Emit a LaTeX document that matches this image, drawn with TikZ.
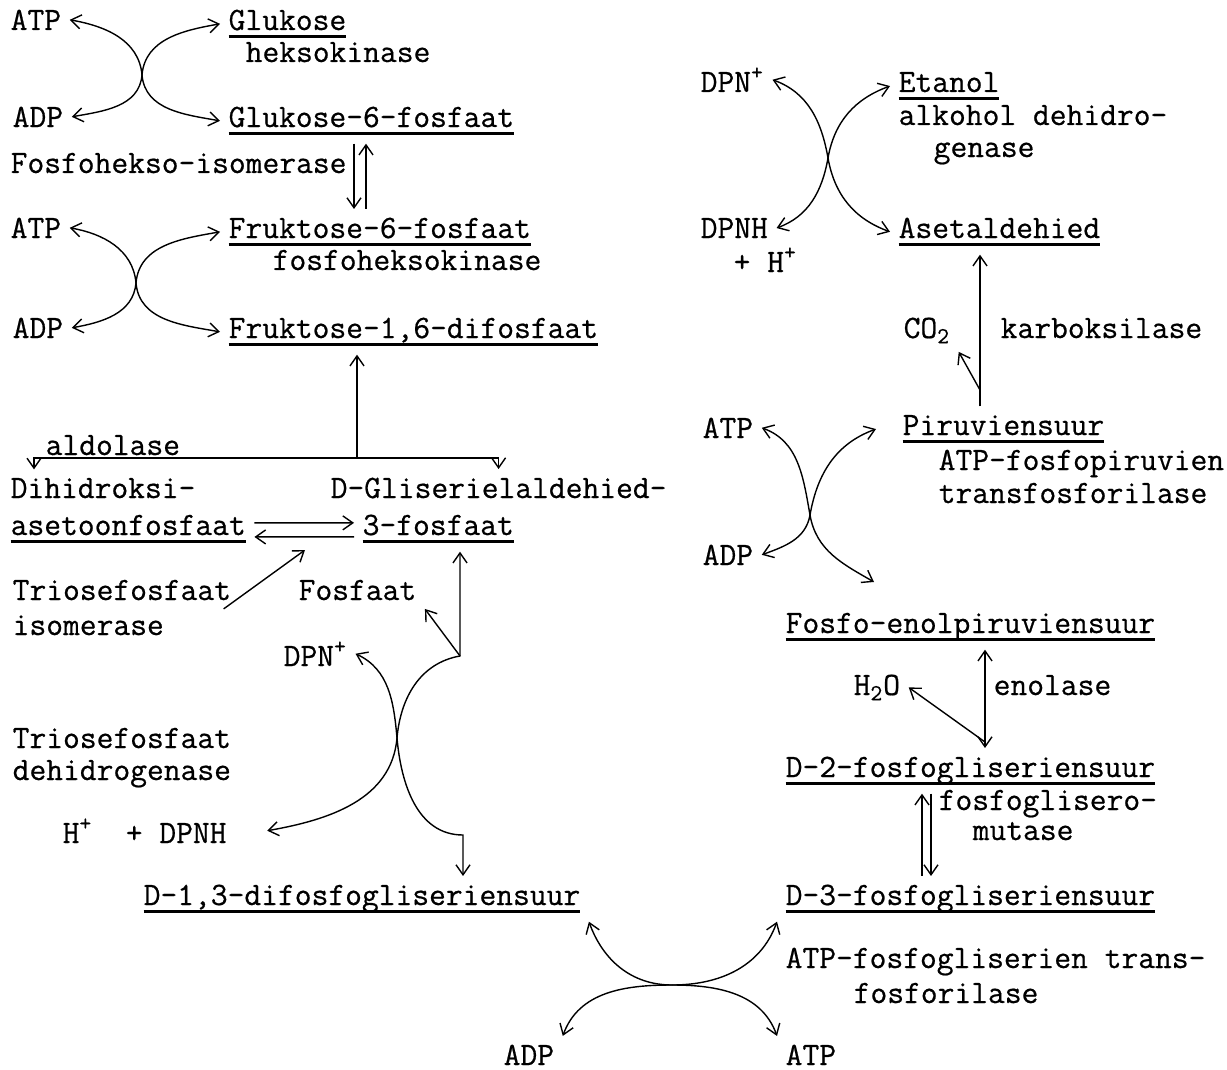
\documentclass[tikz,border=0pt]{standalone}
\usepackage{fontspec}
\setmainfont{Latin Modern Mono}[FakeBold=0.6]
\usetikzlibrary{arrows.meta}
\newcommand{\twfont}{\fontsize{16.3pt}{19pt}\selectfont}
\newcommand{\typeul}[1]{\setbox0\hbox{#1}\rlap{\rule[-4pt]{\wd0}{1.5pt}}\box0}

\begin{document}
\begin{tikzpicture}[
    x=0.5pt, y=-0.5pt,
    ->, >={Straight Barb[length=5pt,width=7pt]},
    line width=0.7pt,
    every node/.style={font=\twfont},
    txt/.style={anchor=base west, inner sep=4pt, xshift=-4pt}
]
    \useasboundingbox (0,0) rectangle (1227,1070);

    \node[txt] (atpA) at (10,30) {ATP};
    \node[txt] (glc) at (228,30) {\typeul{Glukose}};
    \node[txt] (hk) at (245,62) {heksokinase};
    \node[txt] (adpA) at (12,127) {ADP};
    \node[txt] (g6p) at (228,127) {\typeul{Glukose-6-fosfaat}};
    \node[txt] (pgi) at (10,173) {Fosfohekso-isomerase};
    \node[txt] (atpB) at (10,238) {ATP};
    \node[txt] (f6p) at (228,238) {\typeul{Fruktose-6-fosfaat}};
    \node[txt] (pfk) at (272,270) {fosfoheksokinase};
    \node[txt] (adpB) at (12,338) {ADP};
    \node[txt] (fbp) at (228,338) {\typeul{Fruktose-1,6-difosfaat}};
    \node[txt] (ald) at (45,455) {aldolase};
    \node[txt] (dhapA) at (10,498) {Dihidroksi-};
    \node[txt] (dhap) at (10,535) {\typeul{asetoonfosfaat}};
    \node[txt] (gapA) at (330,498) {D-Gliserielaldehied-};
    \node[txt] (gap) at (362,535) {\typeul{3-fosfaat}};
    \node[txt] (tpiA) at (12,600) {Triosefosfaat};
    \node[txt] (tpiB) at (12,635) {isomerase};
    \node[txt] (pi) at (298,600) {Fosfaat};
    \node[txt] (dpnA) at (283,666) {DPN\textsuperscript{+}};
    \node[txt] (gapdhA) at (12,748) {Triosefosfaat};
    \node[txt] (gapdhB) at (12,780) {dehidrogenase};
    \node[txt] (dpnhA) at (62,843) {H\textsuperscript{+}\ \ + DPNH};
    \node[txt] (bpg) at (143,905) {\typeul{D-1,3-difosfogliseriensuur}};
    \node[txt] (adpC) at (503,1065) {ADP};
    \node[txt] (atpC) at (785,1065) {ATP};

    \node[txt] (dpnB) at (700,92) {DPN\textsuperscript{+}};
    \node[txt] (etoh) at (898,92) {\typeul{Etanol}};
    \node[txt] (adhA) at (898,125) {alkohol dehidro-};
    \node[txt] (adhB) at (933,157) {genase};
    \node[txt] (dpnhB) at (700,238) {DPNH};
    \node[txt] (dpnhC) at (733,272) {+ H\textsuperscript{+}};
    \node[txt] (acald) at (898,238) {\typeul{Asetaldehied}};
    \node[txt] (co2) at (903,338) {CO\textsubscript{2}};
    \node[txt] (pdc) at (1000,338) {karboksilase};
    \node[txt] (atpD) at (702,438) {ATP};
    \node[txt] (pyr) at (902,435) {\typeul{Piruviensuur}};
    \node[txt] (pkA) at (938,470) {ATP-fosfopiruvien};
    \node[txt] (pkB) at (938,503) {transfosforilase};
    \node[txt] (adpD) at (702,565) {ADP};
    \node[txt] (pep) at (785,633) {\typeul{Fosfo-enolpiruviensuur}};
    \node[txt] (h2o) at (853,695) {H\textsubscript{2}O};
    \node[txt] (eno) at (993,695) {enolase};
    \node[txt] (pg2) at (785,777) {\typeul{D-2-fosfogliseriensuur}};
    \node[txt] (pgmA) at (938,810) {fosfoglisero-};
    \node[txt] (pgmB) at (972,840) {mutase};
    \node[txt] (pg3) at (785,905) {\typeul{D-3-fosfogliseriensuur}};
    \node[txt] (pgkA) at (785,968) {ATP-fosfogliserien trans-};
    \node[txt] (pgkB) at (853,1003) {fosforilase};

    \coordinate (x1) at (142,75);
    \draw (x1) to[out=95,in=-10] (atpA.east);
    \draw (x1) to[out=85,in=190] (glc.west);
    \draw (x1) to[out=-95,in=10] (adpA.east);
    \draw (x1) to[out=-85,in=170] (g6p.west);

    \coordinate (iso) at (360,0);
    \path (g6p.south -| iso) coordinate (isoT) (f6p.north -| iso) coordinate (isoB);
    \draw ([xshift=-3pt]isoT) -- ([xshift=-3pt]isoB);
    \draw ([xshift=3pt]isoB) -- ([xshift=3pt]isoT);

    \coordinate (x2) at (136,283);
    \draw (x2) to[out=95,in=-10] (atpB.east);
    \draw (x2) to[out=85,in=190] (f6p.west);
    \draw (x2) to[out=-95,in=10] (adpB.east);
    \draw (x2) to[out=-85,in=170] (fbp.west);

    \coordinate (aldC) at (357,458);
    \draw (aldC) -- (aldC |- fbp.south);
    \draw (aldC) -| ([xshift=16pt]dhapA.north west);
    \draw (aldC) -| (gapA.north);

    \draw ([yshift=3pt]dhap.east) -- ([yshift=3pt]gap.west);
    \draw ([yshift=-4pt]gap.west) -- ([yshift=-4pt]dhap.east);
    \coordinate (tpiT) at (305,550);
    \draw ([xshift=-8pt]tpiA.south east) -- (tpiT);

    \coordinate (x6) at (397,738);
    \coordinate (jn) at (460,656);
    \coordinate (jc) at (463,835);
    \draw (x6) to[out=95,in=-25] (dpnA.east);
    \draw (x6) to[out=85,in=190] (jn) -- (jn |- gap.south);
    \draw (jn) -- (pi.south east);
    \draw (x6) to[out=-95,in=10] ([xshift=16pt]dpnhA.east);
    \draw (x6) to[out=-85,in=180] (jc) -- (jc |- bpg.north);

    \coordinate (x5) at (672,985);
    \draw (x5) to[out=180,in=-70] (bpg.south east);
    \draw (x5) to[out=0,in=-110] (pg3.south west);
    \draw (x5) to[out=180,in=70] (adpC.north east);
    \draw (x5) to[out=0,in=110] (atpC.north west);

    \coordinate (pgm) at (926.5,0);
    \path (pg2.south -| pgm) coordinate (pgmT) (pg3.north -| pgm) coordinate (pgmB);
    \draw ([xshift=-2.25pt]pgmB) -- ([xshift=-2.25pt]pgmT);
    \draw ([xshift=2.25pt]pgmT) -- ([xshift=2.25pt]pgmB);

    \coordinate (en) at (985,0);
    \coordinate (enb) at (985,742);
    \draw[<->] (pep.south -| en) -- (pg2.north -| en);
    \draw (enb) -- (h2o.east);

    \coordinate (x4) at (810,515);
    \coordinate (x4e) at (874,582);
    \draw (x4) to[out=100,in=-20] (atpD.east);
    \draw (x4) to[out=80,in=200] ([xshift=-9pt]pyr.west);
    \draw (x4) to[out=-100,in=20] (adpD.east);
    \draw (x4) to[out=-80,in=150] (x4e);

    \coordinate (dc) at (980,0);
    \coordinate (dcb) at (980,390);
    \draw (pyr.north -| dc) -- (acald.south -| dc);
    \draw (dcb) -- (co2.south east);

    \coordinate (x3) at (828,158);
    \draw (x3) to[out=100,in=-20] (dpnB.east);
    \draw (x3) to[out=80,in=200] (etoh.west);
    \draw (x3) to[out=-100,in=20] (dpnhB.east);
    \draw (x3) to[out=-80,in=160] (acald.west);
\end{tikzpicture}
\end{document}
